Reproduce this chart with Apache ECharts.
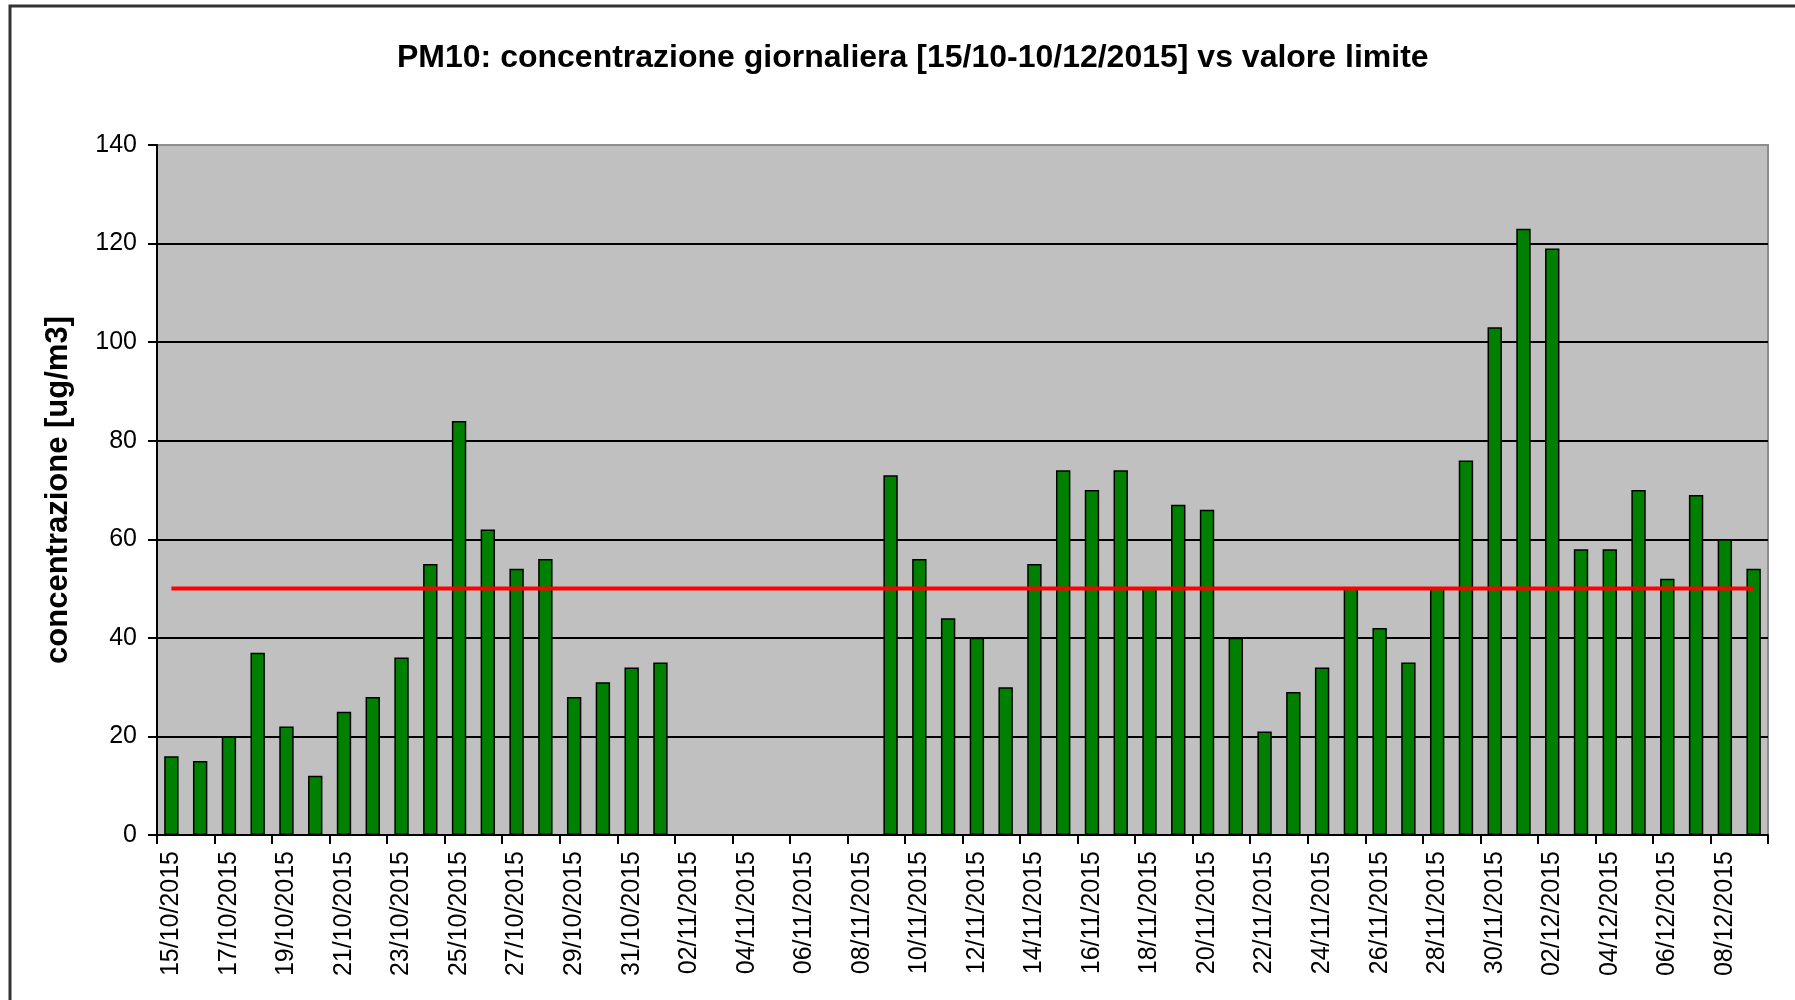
<!DOCTYPE html>
<html>
<head>
<meta charset="utf-8">
<script src="https://cdn.jsdelivr.net/npm/echarts@6/dist/echarts.min.js"></script>
<style>
html,body{margin:0;padding:0;background:#fff;}
#chart{width:1795px;height:1000px;}
</style>
</head>
<body>
<div id="chart"></div>
<script>
const titleText = 'PM10: concentrazione giornaliera [15/10-10/12/2015] vs valore limite';
const yAxisName = 'concentrazione [ug/m3]';

const categories = [
  '15/10/2015','16/10/2015','17/10/2015','18/10/2015','19/10/2015','20/10/2015','21/10/2015',
  '22/10/2015','23/10/2015','24/10/2015','25/10/2015','26/10/2015','27/10/2015','28/10/2015',
  '29/10/2015','30/10/2015','31/10/2015','01/11/2015','02/11/2015','03/11/2015','04/11/2015',
  '05/11/2015','06/11/2015','07/11/2015','08/11/2015','09/11/2015','10/11/2015','11/11/2015',
  '12/11/2015','13/11/2015','14/11/2015','15/11/2015','16/11/2015','17/11/2015','18/11/2015',
  '19/11/2015','20/11/2015','21/11/2015','22/11/2015','23/11/2015','24/11/2015','25/11/2015',
  '26/11/2015','27/11/2015','28/11/2015','29/11/2015','30/11/2015','01/12/2015','02/12/2015',
  '03/12/2015','04/12/2015','05/12/2015','06/12/2015','07/12/2015','08/12/2015','09/12/2015'
];

const concentrazione = [
  16, 15, 20, 37, 22, 12, 25,
  28, 36, 55, 84, 62, 54, 56,
  28, 31, 34, 35, null, null, null,
  null, null, null, null, 73, 56, 44,
  40, 30, 55, 74, 70, 74, 50,
  67, 66, 40, 21, 29, 34, 50,
  42, 35, 50, 76, 103, 123, 119,
  58, 58, 70, 52, 69, 60, 54
];

const valoreLimite = [
  50, 50, 50, 50, 50, 50, 50,
  50, 50, 50, 50, 50, 50, 50,
  50, 50, 50, 50, 50, 50, 50,
  50, 50, 50, 50, 50, 50, 50,
  50, 50, 50, 50, 50, 50, 50,
  50, 50, 50, 50, 50, 50, 50,
  50, 50, 50, 50, 50, 50, 50,
  50, 50, 50, 50, 50, 50, 50
];

const yTicks = { min: 0, max: 140, interval: 20 };

const chart = echarts.init(document.getElementById('chart'), null, { renderer: 'canvas' });
const FONT = '"Liberation Sans", Arial, sans-serif';

chart.setOption({
  animation: false,
  backgroundColor: '#ffffff',
  title: {
    text: titleText,
    left: 392,
    top: 37,
    textStyle: { fontFamily: FONT, fontSize: 32, fontWeight: 'bold', color: '#000' }
  },
  grid: {
    left: 157, right: 27, top: 145, bottom: 165,
    show: true,
    backgroundColor: '#C0C0C0',
    borderColor: '#8c8c8c',
    borderWidth: 2
  },
  xAxis: {
    type: 'category',
    data: categories,
    boundaryGap: true,
    axisLine: { show: true, lineStyle: { color: '#000', width: 2 } },
    axisTick: { show: true, interval: 1, length: 9, lineStyle: { color: '#000', width: 2 } },
    axisLabel: {
      interval: 1, rotate: 90, margin: 16,
      fontFamily: FONT, fontSize: 25, color: '#000'
    },
    splitLine: { show: false }
  },
  yAxis: {
    type: 'value',
    min: yTicks.min, max: yTicks.max, interval: yTicks.interval,
    name: yAxisName,
    nameLocation: 'middle',
    nameGap: 83,
    nameRotate: 90,
    nameTextStyle: { fontFamily: FONT, fontSize: 31, fontWeight: 'bold', color: '#000' },
    axisLine: { show: true, lineStyle: { color: '#000', width: 2 } },
    axisTick: { show: true, length: 9, lineStyle: { color: '#000', width: 2 } },
    axisLabel: { margin: 20, fontFamily: FONT, fontSize: 25, color: '#000' },
    splitLine: { show: true, showMinLine: false, showMaxLine: false, lineStyle: { color: '#000', width: 2 } }
  },
  series: [
    {
      name: 'concentrazione',
      type: 'bar',
      data: concentrazione,
      barWidth: '50%',
      itemStyle: { color: '#008000', borderColor: '#000', borderWidth: 1.5 },
      z: 2
    },
    {
      name: 'valore limite',
      type: 'line',
      data: valoreLimite,
      symbol: 'none',
      lineStyle: { color: '#FF0000', width: 4 },
      z: 3
    }
  ],
  graphic: [
    {
      type: 'polyline',
      shape: { points: [[10, 1000], [10, 6], [1795, 6]] },
      style: { stroke: '#333', lineWidth: 3, fill: null },
      silent: true
    }
  ]
});
</script>
</body>
</html>
